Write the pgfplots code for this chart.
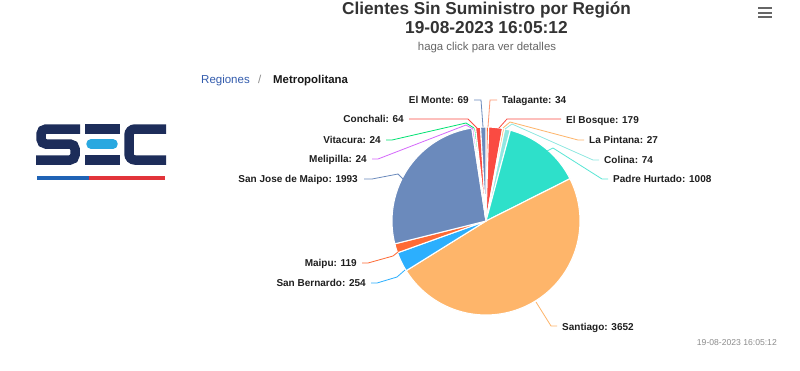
\documentclass[border=0pt]{standalone}
\usepackage{pgfplots}
\pgfplotsset{compat=1.18}
\usepackage{pgfplotstable}
\usepackage{fontspec}
\setmainfont{Liberation Sans}

\definecolor{pie0}{HTML}{FE6A35}  % Talagante
\definecolor{pie1}{HTML}{FA4B42}  % El Bosque
\definecolor{pie2}{HTML}{FEB56A}  % La Pintana
\definecolor{pie3}{HTML}{91E8E1}  % Colina
\definecolor{pie4}{HTML}{2EE0CA}  % Padre Hurtado
\definecolor{pie5}{HTML}{FEB56A}  % Santiago
\definecolor{pie6}{HTML}{2CAFFE}  % San Bernardo
\definecolor{pie7}{HTML}{FE6A35}  % Maipu
\definecolor{pie8}{HTML}{6B8ABC}  % San Jose de Maipo
\definecolor{pie9}{HTML}{D568FB}  % Melipilla
\definecolor{pie10}{HTML}{00E272} % Vitacura
\definecolor{pie11}{HTML}{FA4B42} % Conchali
\definecolor{pie12}{HTML}{6B8ABC} % El Monte
\definecolor{secnavy}{HTML}{1D2D5A}
\definecolor{seccyan}{HTML}{29A8E0}
\definecolor{secblue}{HTML}{1F63B5}
\definecolor{secred}{HTML}{E2343A}
\definecolor{crumb}{HTML}{335CAD}

\pgfplotstableread[col sep=comma]{
name,value
Talagante,34
El Bosque,179
La Pintana,27
Colina,74
Padre Hurtado,1008
Santiago,3652
San Bernardo,254
Maipu,119
San Jose de Maipo,1993
Melipilla,24
Vitacura,24
Conchali,64
El Monte,69
}\pietable

\newcommand\fs[1]{\fontsize{#1}{#1}\selectfont}

\begin{document}
\begin{tikzpicture}[lbl/.style={font=\fs{10}\bfseries, text=black!88, inner sep=0pt}]
\def\total{0}
\pgfplotsforeachungrouped \i in {0,...,12}{%
  \pgfplotstablegetelem{\i}{value}\of\pietable
  \pgfmathsetmacro\total{\total+\pgfplotsretval}%
}
\begin{axis}[
  x=1pt, y=1pt, y dir=reverse,
  xmin=0, xmax=800, ymin=0, ymax=370,
  hide axis, clip=false, scale only axis,
]
\fill[white] (axis cs:0,0) rectangle (axis cs:800,370);
\def\cum{0}
\pgfplotsforeachungrouped \i in {0,...,12}{%
  \pgfplotstablegetelem{\i}{value}\of\pietable
  \pgfmathsetmacro\sa{360*(\cum/\total)}%
  \pgfmathsetmacro\cum{\cum+\pgfplotsretval}%
  \pgfmathsetmacro\ea{360*(\cum/\total)}%
  \edef\tmp{\noexpand\addplot[fill=pie\i, draw=white, line width=1.1pt, line join=round, domain=\sa:\ea, samples=90, forget plot] ({486+94*sin(x)},{221-94*cos(x)}) -- (axis cs:486,221) -- cycle;}%
  \tmp
}
% connectors
\draw[pie12, line width=0.8pt] (axis cs:474,100) -- (axis cs:481,100) -- (axis cs:483,127);
\draw[pie0!70, line width=0.8pt] (axis cs:497,100) -- (axis cs:490,100) -- (axis cs:488,127);
\draw[pie11, line width=0.8pt] (axis cs:409,119) -- (axis cs:468,119) -- (axis cs:477,128);
\draw[pie1, line width=0.8pt] (axis cs:561,119) -- (axis cs:507,119) -- (axis cs:499,128);
\draw[pie10, line width=0.8pt] (axis cs:386,140) -- (axis cs:392,140) -- (axis cs:466,123) -- (axis cs:474,128);
\draw[pie9, line width=0.8pt] (axis cs:372,159) -- (axis cs:378,159) -- (axis cs:466,125) -- (axis cs:473,129);
\draw[pie8, line width=0.8pt] (axis cs:364,179) -- (axis cs:372,179) -- (axis cs:398,174) -- (axis cs:405,181);
\draw[pie2, line width=0.8pt] (axis cs:584,140) -- (axis cs:578,140) -- (axis cs:510,122) -- (axis cs:503,128);
\draw[pie3, line width=0.8pt] (axis cs:599,160) -- (axis cs:593,160) -- (axis cs:512,124) -- (axis cs:505,129);
\draw[pie4!80, line width=0.8pt] (axis cs:608,179) -- (axis cs:602,179) -- (axis cs:553,148) -- (axis cs:547,151);
\draw[pie5, line width=0.8pt] (axis cs:557,326) -- (axis cs:551,326) -- (axis cs:536,302);
\draw[pie6, line width=0.8pt] (axis cs:371,283) -- (axis cs:377,283) -- (axis cs:397,277) -- (axis cs:405,270);
\draw[pie7, line width=0.8pt] (axis cs:362,263) -- (axis cs:368,263) -- (axis cs:393,256) -- (axis cs:398,252);
% data labels
\node[lbl, anchor=base east] at (axis cs:469,103.6) {El Monte: 69};
\node[lbl, anchor=base east] at (axis cs:404,122.6) {Conchali: 64};
\node[lbl, anchor=base east] at (axis cs:381,143.6) {Vitacura: 24};
\node[lbl, anchor=base east] at (axis cs:367,162.6) {Melipilla: 24};
\node[lbl, anchor=base east] at (axis cs:358,182.6) {San Jose de Maipo: 1993};
\node[lbl, anchor=base east] at (axis cs:357,266.6) {Maipu: 119};
\node[lbl, anchor=base east] at (axis cs:366,286.6) {San Bernardo: 254};
\node[lbl, anchor=base west] at (axis cs:502,103.6) {Talagante: 34};
\node[lbl, anchor=base west] at (axis cs:566,123.6) {El Bosque: 179};
\node[lbl, anchor=base west] at (axis cs:589,143.6) {La Pintana: 27};
\node[lbl, anchor=base west] at (axis cs:604,163.6) {Colina: 74};
\node[lbl, anchor=base west] at (axis cs:613,182.6) {Padre Hurtado: 1008};
\node[lbl, anchor=base west] at (axis cs:562,330.6) {Santiago: 3652};
% titles
\node[anchor=base, inner sep=0pt, font=\fs{17.2}\bfseries, text=black!80] at (axis cs:486.5,14) {Clientes Sin Suministro por Región};
\node[anchor=base, inner sep=0pt, font=\fs{17.3}\bfseries, text=black!80] at (axis cs:486.5,33) {19-08-2023 16:05:12};
\node[anchor=base, inner sep=0pt, font=\fs{11.4}, text=black!60] at (axis cs:487,50.5) {haga click para ver detalles};
% breadcrumb
\node[anchor=base west, inner sep=0pt, font=\fs{11.5}, text=crumb] at (axis cs:201,83.5) {Regiones};
\node[anchor=base west, inner sep=0pt, font=\fs{11.5}, text=black!45] at (axis cs:258,83.5) {/};
\node[anchor=base west, inner sep=0pt, font=\fs{11.4}\bfseries, text=black!90] at (axis cs:273,83.5) {Metropolitana};
% footer
\node[anchor=base east, inner sep=0pt, font=\fs{8.6}, text=black!45] at (axis cs:777,345) {19-08-2023 16:05:12};
% menu icon
\draw[black!60, line width=2pt] (axis cs:758,8) -- (axis cs:772,8);
\draw[black!60, line width=2pt] (axis cs:758,12.5) -- (axis cs:772,12.5);
\draw[black!60, line width=2pt] (axis cs:758,17) -- (axis cs:772,17);
% SEC logo
\draw[secnavy, line width=9.5pt, rounded corners=5pt] (axis cs:80,129) -- (axis cs:41,129) -- (axis cs:41,144) -- (axis cs:75,144) -- (axis cs:75,160) -- (axis cs:36,160);
\draw[secnavy, line width=9.5pt] (axis cs:85,129) -- (axis cs:120,129);
\draw[seccyan, line width=9.5pt, line cap=round] (axis cs:91,144) -- (axis cs:113,144);
\draw[secnavy, line width=9.5pt] (axis cs:85,160) -- (axis cs:120,160);
\draw[secnavy, line width=9.5pt, rounded corners=6pt] (axis cs:166,129) -- (axis cs:129,129) -- (axis cs:129,160) -- (axis cs:166,160);
\fill[secblue] (axis cs:37,176) rectangle (axis cs:89,180);
\fill[secred] (axis cs:89,176) rectangle (axis cs:165,180);
\end{axis}
\end{tikzpicture}
\end{document}
